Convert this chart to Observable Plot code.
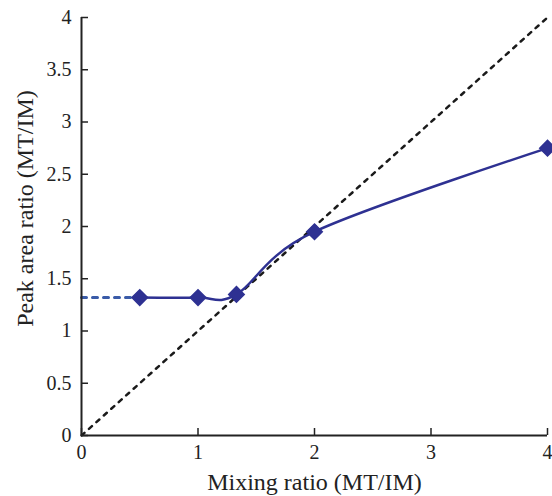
<!DOCTYPE html>
<html>
<head>
<meta charset="utf-8">
<script src="https://cdn.jsdelivr.net/npm/d3@7"></script>
<script src="https://cdn.jsdelivr.net/npm/@observablehq/plot@0.6"></script>
<style>
  html, body { margin: 0; padding: 0; background: #fff; }
  #chart { width: 552px; height: 496px; }
</style>
</head>
<body>
<div id="chart"></div>
<script>
const mixingRatio = [0.5, 1, 1.33, 2, 4];
const peakAreaRatio = [1.32, 1.32, 1.35, 1.95, 2.75];
const extrapX = [0, 0.5];
const extrapY = [1.32, 1.32];
const diagX = [0, 4];
const diagY = [0, 4];
const xTicks = [0, 1, 2, 3, 4];
const yTicks = [0, 0.5, 1, 1.5, 2, 2.5, 3, 3.5, 4];
const xLabel = "Mixing ratio (MT/IM)";
const yLabel = "Peak area ratio (MT/IM)";

const measured = mixingRatio.map((x, i) => ({x, y: peakAreaRatio[i]}));
const extrap = extrapX.map((x, i) => ({x, y: extrapY[i]}));
const diag = diagX.map((x, i) => ({x, y: diagY[i]}));

const chart = Plot.plot({
  width: 552,
  height: 496,
  marginLeft: 81,
  marginRight: 5,
  marginTop: 17,
  marginBottom: 61,
  style: {fontFamily: "'Liberation Serif', 'Times New Roman', serif", fontSize: "20px", color: "#222", background: "#fff"},
  x: {domain: [0, 4]},
  y: {domain: [0, 4]},
  marks: [
    Plot.line(diag, {x: "x", y: "y", stroke: "#1a1a1a", strokeWidth: 2.5, strokeDasharray: "4,6"}),
    Plot.line(extrap, {x: "x", y: "y", stroke: "#3a5ba8", strokeWidth: 3, strokeDasharray: "5,6"}),
    Plot.line(measured, {x: "x", y: "y", stroke: "#2e3192", strokeWidth: 2.5, curve: "cardinal"}),
    Plot.dot(measured, {x: "x", y: "y", symbol: "diamond2", r: 7, fill: "#2e3192", stroke: "#2e3192"}),
    Plot.ruleX([0], {stroke: "#222", strokeWidth: 2}),
    Plot.ruleY([0], {stroke: "#222", strokeWidth: 2}),
    Plot.axisX({ticks: xTicks, tickSize: -7, tickPadding: 16, tickFormat: d => String(d), stroke: "#222",
      strokeWidth: 1.5, fontSize: 20, fontFamily: "'Liberation Serif', serif", label: null}),
    Plot.axisY({ticks: yTicks, tickSize: -7, tickPadding: 17, tickFormat: d => String(d), stroke: "#222",
      strokeWidth: 1.5, fontSize: 20, fontFamily: "'Liberation Serif', serif", label: null}),
    Plot.text([xLabel], {frameAnchor: "bottom", textAnchor: "middle", dy: 54, fontSize: 24, fill: "#222"}),
    Plot.text([yLabel], {frameAnchor: "left", textAnchor: "middle", lineAnchor: "middle", dx: -56, dy: -18, rotate: -90, fontSize: 24, fill: "#222"})
  ]
});
document.getElementById("chart").appendChild(chart);
</script>
</body>
</html>
